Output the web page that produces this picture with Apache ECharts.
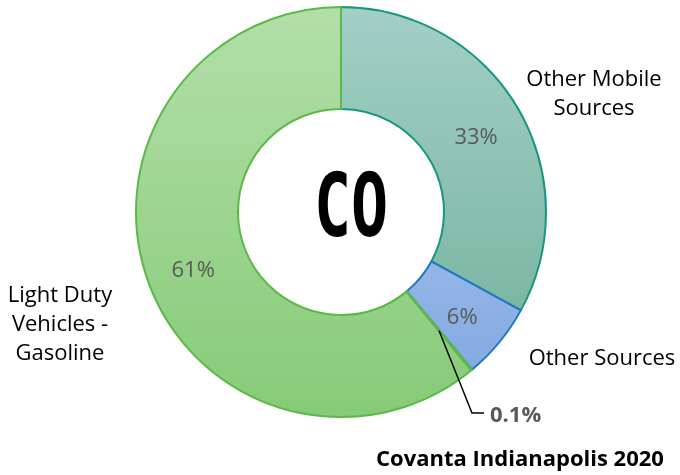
<!DOCTYPE html>
<html><head><meta charset="utf-8">
<script src="https://cdn.jsdelivr.net/npm/echarts@6/dist/echarts.min.js"></script>
<style>html,body{margin:0;padding:0;background:#fff}#c{width:680px;height:475px}</style>
</head><body><div id="c"></div>
<script>
const categories = ['Other Mobile Sources', 'Other Sources', 'Covanta Indianapolis 2020', 'Light Duty Vehicles - Gasoline'];
const nameLabels = ['Other Mobile\nSources', 'Other Sources', 'Covanta Indianapolis 2020', 'Light Duty\nVehicles -\nGasoline'];
const values = [33, 6, 0.1, 61];
const pctLabels = ['33%', '6%', '0.1%', '61%'];

const FONT = '"Open Sans", Lato, sans-serif';
const cx = 341, cy = 212, r0 = 103, r1 = 205;
function grad(top, bottom) {
  return {type: 'linear', x: 0, y: cy - r1, x2: 0, y2: cy + r1, global: true,
    colorStops: [{offset: 0, color: top}, {offset: 1, color: bottom}]};
}
const fills = [grad('#a2cfc6', '#6fae97'), grad('#b6cdf2', '#7fa6df'), grad('#b4dea9', '#86cb77'), grad('#b4dea9', '#86cb77')];
const borders = ['#17977f', '#1f77c0', '#5ab947', '#5ab947'];

const data = categories.map((c, i) => ({
  name: c, value: values[i],
  itemStyle: {color: fills[i], borderColor: borders[i], borderWidth: 2},
  label: {show: i !== 2, formatter: pctLabels[i]}
}));

// compute Covanta leader line start from data
const total = values.reduce((a, b) => a + b, 0);
let acc = 0; for (let i = 0; i < 2; i++) acc += values[i];
const midFrac = (acc + values[2] / 2) / total;
const ang = midFrac * 2 * Math.PI;
const rm = (r0 + r1) / 2;
const sx = cx + rm * Math.sin(ang), sy = cy - rm * Math.cos(ang);

const chart = echarts.init(document.getElementById('c'), null, {renderer: 'canvas'});
chart.setOption({
  animation: false,
  series: [{
    type: 'pie', center: [cx, cy], radius: [r0, r1], startAngle: 90, clockwise: true,
    avoidLabelOverlap: false,
    label: {position: 'inside', color: '#595959', fontSize: 22, fontFamily: FONT, offset: [0, 6]},
    labelLine: {show: false},
    data: data
  }],
  graphic: [
    {type: 'text', z: 100, x: 351, y: 213, scaleX: 0.7, style: {text: 'CO', font: 'bold 88px "DejaVu Sans Mono"', fill: '#000', align: 'center', verticalAlign: 'middle'}},
    {type: 'text', z: 100, x: 594, y: 94, style: {text: nameLabels[0], font: '22px ' + FONT, fill: '#000', align: 'center', verticalAlign: 'middle', lineHeight: 29}},
    {type: 'text', z: 100, x: 602, y: 359, style: {text: nameLabels[1], font: '22px ' + FONT, fill: '#000', align: 'center', verticalAlign: 'middle'}},
    {type: 'text', z: 100, x: 60, y: 325, style: {text: nameLabels[3], font: '22px ' + FONT, fill: '#000', align: 'center', verticalAlign: 'middle', lineHeight: 29}},
    {type: 'text', z: 100, x: 520, y: 460, style: {text: nameLabels[2], font: 'bold 22px ' + FONT, fill: '#000', align: 'center', verticalAlign: 'middle'}},
    {type: 'text', z: 100, x: 490, y: 416, style: {text: pctLabels[2], font: 'bold 22px ' + FONT, fill: '#595959', align: 'left', verticalAlign: 'middle'}},
    {type: 'polyline', z: 100, shape: {points: [[sx, sy], [472, 413], [484, 413]]}, style: {stroke: '#000', lineWidth: 1.5, fill: null}}
  ]
});
</script></body></html>
